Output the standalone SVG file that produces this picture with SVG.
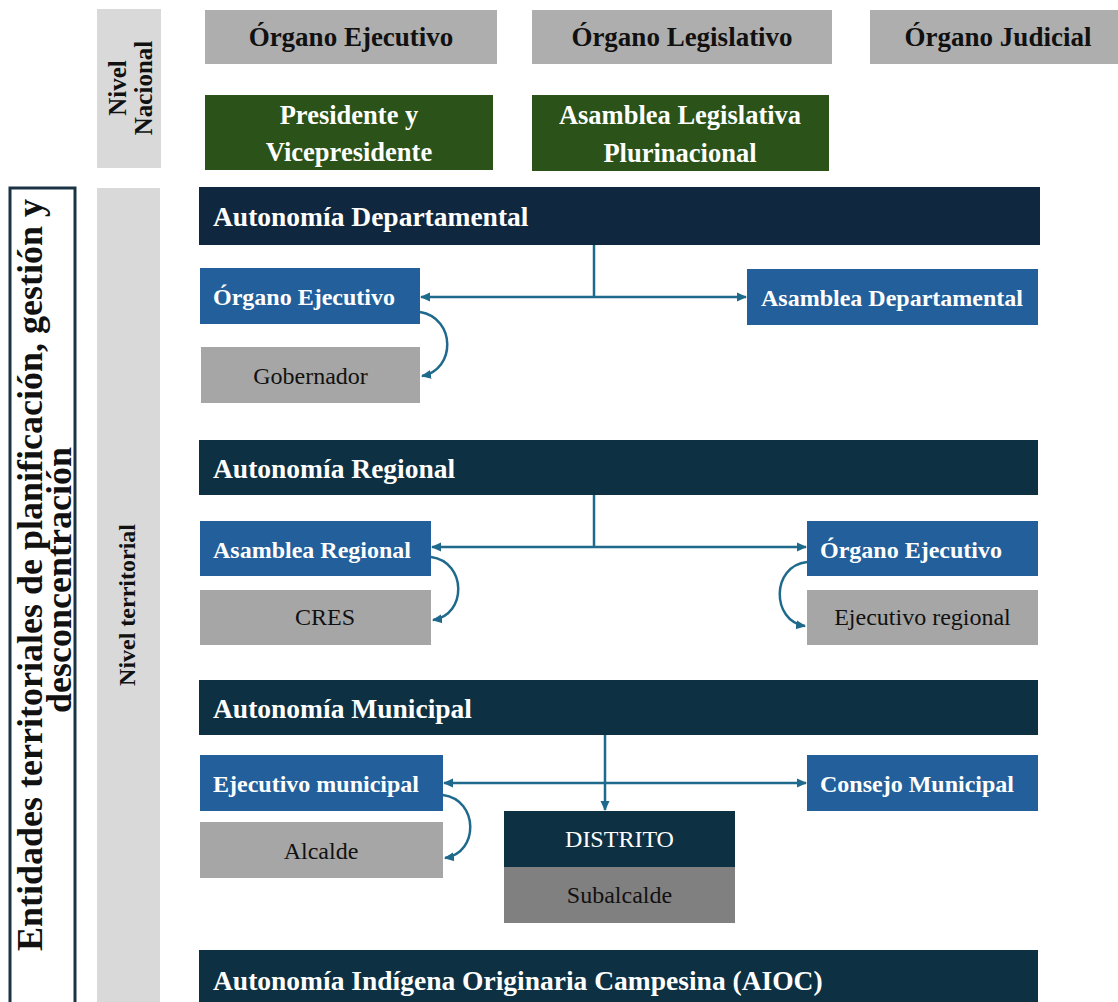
<svg xmlns="http://www.w3.org/2000/svg" width="1118" height="1002" viewBox="0 0 1118 1002" font-family="'Liberation Serif', Tinos, 'Times New Roman', 'DejaVu Serif', serif">
<defs>
<style>
text{font-family:'Liberation Serif', Tinos, 'Times New Roman', 'DejaVu Serif', serif}
.b{font-weight:bold}
.w{fill:#ffffff}
.k{fill:#111111}
.top{fill:#aeaeae}
.grn{fill:#2a5219}
.nav{fill:#10283f}
.teal{fill:#0d3043}
.blu{fill:#225f9b}
.gry{fill:#a6a6a6}
.lvl{fill:#d9d9d9}
.c{fill:none;stroke:#1f6a8c;stroke-width:2.5}
</style>
<marker id="ah" viewBox="0 0 10 10" refX="9" refY="5" markerWidth="10" markerHeight="10" markerUnits="userSpaceOnUse" orient="auto">
<path d="M0,0.5 L10,5 L0,9.5 z" fill="#1f6a8c"/>
</marker>
</defs>
<rect width="1118" height="1002" fill="#ffffff"/>

<g id="titulo-lateral">
<rect x="10" y="188" width="65" height="830" fill="#ffffff" stroke="#1b3445" stroke-width="3"/>
<text class="b k" font-size="36" transform="translate(42,575) rotate(-90)" text-anchor="middle">Entidades territoriales de planificación, gestión y</text>
<text class="b k" font-size="36" transform="translate(71,580) rotate(-90)" text-anchor="middle">desconcentración</text>
</g>

<g id="nivel-nacional">
<rect class="lvl" x="97" y="9" width="64" height="159"/>
<text class="b k" font-size="25" transform="translate(126,88) rotate(-90)" text-anchor="middle">Nivel</text>
<text class="b k" font-size="25" transform="translate(152,88) rotate(-90)" text-anchor="middle">Nacional</text>
</g>

<g id="nivel-territorial">
<rect class="lvl" x="97" y="188" width="63" height="830"/>
<text class="b k" font-size="24" transform="translate(135,605) rotate(-90)" text-anchor="middle">Nivel territorial</text>
</g>

<g id="organo-ejecutivo-nacional">
<rect class="top" x="205" y="10" width="292" height="54"/>
<text class="b k" font-size="27" x="351" y="46" text-anchor="middle">Órgano Ejecutivo</text>
</g>
<g id="organo-legislativo-nacional">
<rect class="top" x="532" y="10" width="300" height="54"/>
<text class="b k" font-size="27" x="682" y="46" text-anchor="middle">Órgano Legislativo</text>
</g>
<g id="organo-judicial-nacional">
<rect class="top" x="870" y="10" width="250" height="54"/>
<text class="b k" font-size="27" x="998" y="46" text-anchor="middle">Órgano Judicial</text>
</g>
<g id="presidente">
<rect class="grn" x="205" y="95" width="288" height="75"/>
<text class="b w" font-size="26.5" x="349" y="124" text-anchor="middle">Presidente y</text>
<text class="b w" font-size="26.5" x="349" y="161" text-anchor="middle">Vicepresidente</text>
</g>
<g id="asamblea-plurinacional">
<rect class="grn" x="532" y="95" width="297" height="76"/>
<text class="b w" font-size="26.5" x="680" y="124" text-anchor="middle">Asamblea Legislativa</text>
<text class="b w" font-size="26.5" x="680" y="162" text-anchor="middle">Plurinacional</text>
</g>

<g id="autonomia-departamental">
<rect class="nav" x="199" y="187" width="841" height="58"/>
<text class="b w" font-size="27.5" x="213" y="226">Autonomía Departamental</text>
</g>
<g id="organo-ejecutivo-departamental">
<rect class="blu" x="200" y="268" width="220" height="56"/>
<text class="b w" font-size="24" x="213" y="305">Órgano Ejecutivo</text>
</g>
<g id="gobernador">
<rect class="gry" x="201" y="347" width="219" height="56"/>
<text class="k" font-size="24" x="310.5" y="384" text-anchor="middle">Gobernador</text>
</g>
<g id="asamblea-departamental">
<rect class="blu" x="747" y="269" width="291" height="56"/>
<text class="b w" font-size="24" x="892" y="306" text-anchor="middle">Asamblea Departamental</text>
</g>

<g id="autonomia-regional">
<rect class="teal" x="199" y="440" width="839" height="55"/>
<text class="b w" font-size="27.5" x="213" y="478">Autonomía Regional</text>
</g>
<g id="asamblea-regional">
<rect class="blu" x="200" y="521" width="231" height="55"/>
<text class="b w" font-size="24" x="213" y="558">Asamblea Regional</text>
</g>
<g id="cres">
<rect class="gry" x="200" y="590" width="231" height="55"/>
<text class="k" font-size="24" x="325" y="625" text-anchor="middle">CRES</text>
</g>
<g id="organo-ejecutivo-regional">
<rect class="blu" x="807" y="521" width="231" height="55"/>
<text class="b w" font-size="24" x="820" y="558">Órgano Ejecutivo</text>
</g>
<g id="ejecutivo-regional">
<rect class="gry" x="807" y="590" width="231" height="55"/>
<text class="k" font-size="24" x="922.5" y="625" text-anchor="middle">Ejecutivo regional</text>
</g>

<g id="autonomia-municipal">
<rect class="teal" x="199" y="680" width="839" height="55"/>
<text class="b w" font-size="27.5" x="213" y="718">Autonomía Municipal</text>
</g>
<g id="ejecutivo-municipal">
<rect class="blu" x="200" y="755" width="243" height="56"/>
<text class="b w" font-size="24" x="213" y="792">Ejecutivo municipal</text>
</g>
<g id="alcalde">
<rect class="gry" x="200" y="822" width="243" height="56"/>
<text class="k" font-size="24" x="321" y="859" text-anchor="middle">Alcalde</text>
</g>
<g id="consejo-municipal">
<rect class="blu" x="807" y="755" width="231" height="56"/>
<text class="b w" font-size="24" x="820" y="792">Consejo Municipal</text>
</g>
<g id="distrito">
<rect class="teal" x="504" y="811" width="231" height="56"/>
<text class="w" font-size="24" x="619.5" y="847" text-anchor="middle">DISTRITO</text>
</g>
<g id="subalcalde">
<rect x="504" y="867" width="231" height="56" fill="#808080"/>
<text class="k" font-size="24" x="619.5" y="903" text-anchor="middle">Subalcalde</text>
</g>

<g id="autonomia-aioc">
<rect class="teal" x="199" y="950" width="839" height="60"/>
<text class="b w" font-size="27.5" x="213" y="990">Autonomía Indígena Originaria Campesina (AIOC)</text>
</g>

<g id="connectors">
<path class="c" d="M594,245 V297"/>
<path class="c" d="M594,297 H421" marker-end="url(#ah)"/>
<path class="c" d="M594,297 H746" marker-end="url(#ah)"/>
<path class="c" d="M420,312 C456,318 456,370 422,376" marker-end="url(#ah)"/>

<path class="c" d="M594,495 V547"/>
<path class="c" d="M594,547 H432" marker-end="url(#ah)"/>
<path class="c" d="M594,547 H806" marker-end="url(#ah)"/>
<path class="c" d="M431,557 C467,562 467,615 433,620" marker-end="url(#ah)"/>
<path class="c" d="M807,562 C771,566 771,621 805,626" marker-end="url(#ah)"/>

<path class="c" d="M605,735 V810" marker-end="url(#ah)"/>
<path class="c" d="M605,783 H444" marker-end="url(#ah)"/>
<path class="c" d="M605,783 H806" marker-end="url(#ah)"/>
<path class="c" d="M443,795 C479,800 479,853 445,858" marker-end="url(#ah)"/>
</g>
</svg>
